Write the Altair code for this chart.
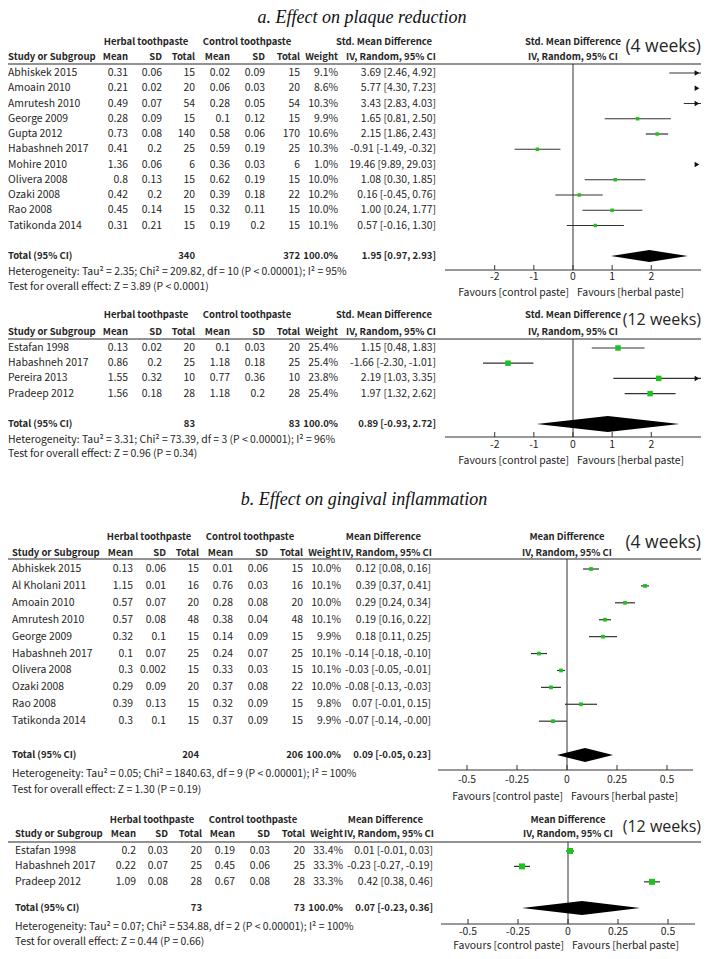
import altair as alt
import pandas as pd

# ---------------- a. Effect on plaque reduction : 4 weeks (Std. Mean Difference) ----------------
a4_study = ["Abhiskek 2015", "Amoain 2010", "Amrutesh 2010", "George 2009", "Gupta 2012",
            "Habashneh 2017", "Mohire 2010", "Olivera 2008", "Ozaki 2008", "Rao 2008", "Tatikonda 2014"]
a4_h_mean = [0.31, 0.21, 0.49, 0.28, 0.73, 0.41, 1.36, 0.8, 0.42, 0.45, 0.31]
a4_h_sd = [0.06, 0.02, 0.07, 0.09, 0.08, 0.2, 0.06, 0.13, 0.2, 0.14, 0.21]
a4_h_n = [15, 20, 54, 15, 140, 25, 6, 15, 20, 15, 15]
a4_c_mean = [0.02, 0.06, 0.28, 0.1, 0.58, 0.59, 0.36, 0.62, 0.39, 0.32, 0.19]
a4_c_sd = [0.09, 0.03, 0.05, 0.12, 0.06, 0.19, 0.03, 0.19, 0.18, 0.11, 0.2]
a4_c_n = [15, 20, 54, 15, 170, 25, 6, 15, 22, 15, 15]
a4_weight = [9.1, 8.6, 10.3, 9.9, 10.6, 10.3, 1.0, 10.0, 10.2, 10.0, 10.1]
a4_est = [3.69, 5.77, 3.43, 1.65, 2.15, -0.91, 19.46, 1.08, 0.16, 1.00, 0.57]
a4_lo = [2.46, 4.30, 2.83, 0.81, 1.86, -1.49, 9.89, 0.30, -0.45, 0.24, -0.16]
a4_hi = [4.92, 7.23, 4.03, 2.50, 2.43, -0.32, 29.03, 1.85, 0.76, 1.77, 1.30]
a4_total = [340, 372, 1.95, 0.97, 2.93]
a4_het = "Heterogeneity: Tau² = 2.35; Chi² = 209.82, df = 10 (P < 0.00001); I² = 95%"
a4_test = "Test for overall effect: Z = 3.89 (P < 0.0001)"

# ---------------- a. plaque : 12 weeks ----------------
a12_study = ["Estafan 1998", "Habashneh 2017", "Pereira 2013", "Pradeep 2012"]
a12_h_mean = [0.13, 0.86, 1.55, 1.56]
a12_h_sd = [0.02, 0.2, 0.32, 0.18]
a12_h_n = [20, 25, 10, 28]
a12_c_mean = [0.1, 1.18, 0.77, 1.18]
a12_c_sd = [0.03, 0.18, 0.36, 0.2]
a12_c_n = [20, 25, 10, 28]
a12_weight = [25.4, 25.4, 23.8, 25.4]
a12_est = [1.15, -1.66, 2.19, 1.97]
a12_lo = [0.48, -2.30, 1.03, 1.32]
a12_hi = [1.83, -1.01, 3.35, 2.62]
a12_total = [83, 83, 0.89, -0.93, 2.72]
a12_het = "Heterogeneity: Tau² = 3.31; Chi² = 73.39, df = 3 (P < 0.00001); I² = 96%"
a12_test = "Test for overall effect: Z = 0.96 (P = 0.34)"

# ---------------- b. Effect on gingival inflammation : 4 weeks (Mean Difference) ----------------
b4_study = ["Abhiskek 2015", "Al Kholani 2011", "Amoain 2010", "Amrutesh 2010", "George 2009",
            "Habashneh 2017", "Olivera 2008", "Ozaki 2008", "Rao 2008", "Tatikonda 2014"]
b4_h_mean = [0.13, 1.15, 0.57, 0.57, 0.32, 0.1, 0.3, 0.29, 0.39, 0.3]
b4_h_sd = [0.06, 0.01, 0.07, 0.08, 0.1, 0.07, 0.002, 0.09, 0.13, 0.1]
b4_h_n = [15, 16, 20, 48, 15, 25, 15, 20, 15, 15]
b4_c_mean = [0.01, 0.76, 0.28, 0.38, 0.14, 0.24, 0.33, 0.37, 0.32, 0.37]
b4_c_sd = [0.06, 0.03, 0.08, 0.04, 0.09, 0.07, 0.03, 0.08, 0.09, 0.09]
b4_c_n = [15, 16, 20, 48, 15, 25, 15, 22, 15, 15]
b4_weight = [10.0, 10.1, 10.0, 10.1, 9.9, 10.1, 10.1, 10.0, 9.8, 9.9]
b4_est = [0.12, 0.39, 0.29, 0.19, 0.18, -0.14, -0.03, -0.08, 0.07, -0.07]
b4_lo = [0.08, 0.37, 0.24, 0.16, 0.11, -0.18, -0.05, -0.13, -0.01, -0.14]
b4_hi = [0.16, 0.41, 0.34, 0.22, 0.25, -0.10, -0.01, -0.03, 0.15, -0.0]
b4_total = [204, 206, 0.09, -0.05, 0.23]
b4_het = "Heterogeneity: Tau² = 0.05; Chi² = 1840.63, df = 9 (P < 0.00001); I² = 100%"
b4_test = "Test for overall effect: Z = 1.30 (P = 0.19)"

# ---------------- b. gingival : 12 weeks ----------------
b12_study = ["Estafan 1998", "Habashneh 2017", "Pradeep 2012"]
b12_h_mean = [0.2, 0.22, 1.09]
b12_h_sd = [0.03, 0.07, 0.08]
b12_h_n = [20, 25, 28]
b12_c_mean = [0.19, 0.45, 0.67]
b12_c_sd = [0.03, 0.06, 0.08]
b12_c_n = [20, 25, 28]
b12_weight = [33.4, 33.3, 33.3]
b12_est = [0.01, -0.23, 0.42]
b12_lo = [-0.01, -0.27, 0.38]
b12_hi = [0.03, -0.19, 0.46]
b12_total = [73, 73, 0.07, -0.23, 0.36]
b12_het = "Heterogeneity: Tau² = 0.07; Chi² = 534.88, df = 2 (P < 0.00001); I² = 100%"
b12_test = "Test for overall effect: Z = 0.44 (P = 0.66)"

smd_ticks = [-2, -1, 0, 1, 2]
md_ticks = [-0.5, -0.25, 0, 0.25, 0.5]
titles = ["a. Effect on plaque reduction", "b. Effect on gingival inflammation"]

PANELS = [
    dict(study=a4_study, hm=a4_h_mean, hs=a4_h_sd, hn=a4_h_n, cm=a4_c_mean, cs=a4_c_sd, cn=a4_c_n,
         w=a4_weight, est=a4_est, lo=a4_lo, hi=a4_hi, tot=a4_total, het=a4_het, test=a4_test,
         effect="Std. Mean Difference", weeks="(4 weeks)", ticks=smd_ticks),
    dict(study=a12_study, hm=a12_h_mean, hs=a12_h_sd, hn=a12_h_n, cm=a12_c_mean, cs=a12_c_sd, cn=a12_c_n,
         w=a12_weight, est=a12_est, lo=a12_lo, hi=a12_hi, tot=a12_total, het=a12_het, test=a12_test,
         effect="Std. Mean Difference", weeks="(12 weeks)", ticks=smd_ticks),
    dict(study=b4_study, hm=b4_h_mean, hs=b4_h_sd, hn=b4_h_n, cm=b4_c_mean, cs=b4_c_sd, cn=b4_c_n,
         w=b4_weight, est=b4_est, lo=b4_lo, hi=b4_hi, tot=b4_total, het=b4_het, test=b4_test,
         effect="Mean Difference", weeks="(4 weeks)", ticks=md_ticks),
    dict(study=b12_study, hm=b12_h_mean, hs=b12_h_sd, hn=b12_h_n, cm=b12_c_mean, cs=b12_c_sd, cn=b12_c_n,
         w=b12_weight, est=b12_est, lo=b12_lo, hi=b12_hi, tot=b12_total, het=b12_het, test=b12_test,
         effect="Mean Difference", weeks="(12 weeks)", ticks=md_ticks),
]

# ---------------- layout (pixel positions, styles) ----------------
W, H = 693, 943
LAYOUT = [
    dict(cols=[0, 120, 154, 187, 222, 257, 292, 330, 428], grp=[138, 239], eff1=424, eff2=428,
         h1=34, h2=49, sep=56, row0=65, rowt=248, gap=2, het=264, test=279,
         axis=262, tlab=269, fav=285, xdom=[-3.27, 3.27], xrng=[437, 693],
         wy=39, wfs=17.5, sq=12, dh=6),
    dict(cols=[0, 120, 154, 187, 222, 257, 292, 330, 428], grp=[138, 239], eff1=424, eff2=428,
         h1=307, h2=324, sep=331, row0=340, rowt=416, gap=2, het=432, test=446,
         axis=429, tlab=437, fav=453, xdom=[-3.27, 3.27], xrng=[437, 693],
         wy=312, wfs=16, sq=30, dh=8),
    dict(cols=[4, 125, 158, 191, 225, 260, 295, 333, 423], grp=[141, 242], eff1=413, eff2=424,
         h1=529, h2=545, sep=551, row0=561, rowt=747, gap=2, het=766, test=782,
         axis=762, tlab=772, fav=789, xdom=[-0.645, 0.63], xrng=[430, 685],
         wy=535, wfs=17.5, sq=14, dh=7),
    dict(cols=[7, 128, 160, 194, 227, 262, 297, 335, 425], grp=[144, 245], eff1=415, eff2=426,
         h1=812, h2=826, sep=834, row0=843, rowt=900, gap=1.7, het=919, test=934,
         axis=916, tlab=924, fav=938, xdom=[-0.635, 0.635], xrng=[433, 687],
         wy=819, wfs=16, sq=36, dh=7),
]
TITLE_POS = [(354, 15), (356, 497)]
WEEKS_RIGHT = 693

FONT = "Noto Sans CJK SC, Liberation Sans, sans-serif"
FS = 10.4
FSB = 9.5
INK = "#262626"
LINE = "#333333"
GREEN = "#1cc31c"


def num(v):
    return str(v)


def ci(e, l, h):
    return f"{e:.2f} [{l:.2f}, {h:.2f}]"


def panel_layers(d, L):
    n = len(d["study"])
    tpos = n - 1 + L["gap"]
    ysc = alt.Scale(domain=[0, tpos], range=[L["row0"], L["rowt"]], nice=False, zero=False)
    xsc = alt.Scale(domain=L["xdom"], range=L["xrng"], nice=False, zero=False)
    dmin, dmax = L["xdom"]
    cols = L["cols"]
    one = pd.DataFrame({"k": [0]})
    out = []

    def Yrow(f):
        return alt.Y(f, type="quantitative", scale=ysc, axis=None)

    def Xf(f):
        return alt.X(f, type="quantitative", scale=xsc, axis=None)

    def Xd(v):
        return alt.XDatum(v, type="quantitative", scale=xsc, axis=None)

    XP = alt.X("px:Q", scale=None, axis=None)
    YP = alt.Y("py:Q", scale=None, axis=None)

    def tmark(align, bold, **kw):
        return dict(align=align, baseline="middle", font=FONT, fontSize=FSB if bold else FS,
                    fontWeight="bold" if bold else "normal", color=INK, **kw)

    def fixed(rows, align, bold):
        df = pd.DataFrame(rows, columns=["label", "px", "py"])
        return alt.Chart(df).mark_text(**tmark(align, bold)).encode(x=XP, y=YP, text="label:N")

    # ---- headers & footers of the table ----
    out.append(fixed([("Herbal toothpaste", L["grp"][0], L["h1"]),
                      ("Control toothpaste", L["grp"][1], L["h1"])], "center", True))
    out.append(fixed([(d["effect"], L["eff1"], L["h1"]),
                      ("Mean", cols[1], L["h2"]), ("SD", cols[2], L["h2"]), ("Total", cols[3], L["h2"]),
                      ("Mean", cols[4], L["h2"]), ("SD", cols[5], L["h2"]), ("Total", cols[6], L["h2"]),
                      ("Weight", cols[7], L["h2"]), ("IV, Random, 95% CI", L["eff2"], L["h2"])], "right", True))
    out.append(fixed([("Study or Subgroup", cols[0], L["h2"])], "left", True))
    out.append(fixed([(d["het"], cols[0], L["het"]), (d["test"], cols[0], L["test"])], "left", False))
    out.append(alt.Chart(one).mark_rule(color="#6e6e6e", strokeWidth=1.5).encode(
        x=alt.value(0), x2=alt.value(W), y=alt.value(L["sep"])))

    # ---- study rows ----
    names = pd.DataFrame({"pos": list(range(n)), "label": d["study"]})
    out.append(alt.Chart(names).mark_text(**tmark("left", False)).encode(
        x=alt.value(cols[0]), y=Yrow("pos"), text="label:N"))
    cells = []
    for i in range(n):
        vals = [num(d["hm"][i]), num(d["hs"][i]), num(d["hn"][i]), num(d["cm"][i]), num(d["cs"][i]),
                num(d["cn"][i]), f"{d['w'][i]:.1f}%", ci(d["est"][i], d["lo"][i], d["hi"][i])]
        for j, v in enumerate(vals):
            cells.append((i, cols[j + 1], v))
    cdf = pd.DataFrame(cells, columns=["pos", "px", "label"])
    out.append(alt.Chart(cdf).mark_text(**tmark("right", False)).encode(x=XP, y=Yrow("pos"), text="label:N"))

    # ---- total row ----
    th, tc, te, tl, thi = d["tot"]
    tot_l = pd.DataFrame({"pos": [tpos], "label": ["Total (95% CI)"]})
    out.append(alt.Chart(tot_l).mark_text(**tmark("left", True)).encode(
        x=alt.value(cols[0]), y=Yrow("pos"), text="label:N"))
    tot_r = pd.DataFrame({"pos": [tpos] * 4, "px": [cols[3], cols[6], cols[7], cols[8]],
                          "label": [str(th), str(tc), "100.0%", ci(te, tl, thi)]})
    out.append(alt.Chart(tot_r).mark_text(**tmark("right", True)).encode(x=XP, y=Yrow("pos"), text="label:N"))

    # ---- forest plot ----
    out.append(alt.Chart(one).mark_rule(color=LINE, strokeWidth=1).encode(
        x=Xd(0), y=alt.value(L["sep"]), y2=alt.value(L["axis"])))
    fdf = pd.DataFrame({"pos": list(range(n)), "est": d["est"], "lo": d["lo"], "hi": d["hi"]})
    out.append(alt.Chart(fdf).mark_rule(clip=True, color=LINE, strokeWidth=1.2).encode(
        x=Xf("lo"), x2=alt.X2("hi"), y=Yrow("pos")))
    out.append(alt.Chart(fdf).mark_square(clip=True, size=L["sq"], color=GREEN, opacity=1).encode(
        x=Xf("est"), y=Yrow("pos")))
    out.append(alt.Chart(fdf).transform_filter(alt.datum.hi > dmax).mark_point(
        shape="triangle-right", filled=True, size=30, color="#111111", opacity=1, xOffset=-4).encode(
        x=Xd(dmax), y=Yrow("pos")))
    step = (L["rowt"] - L["row0"]) / tpos
    hh = L["dh"] / step
    dia = pd.DataFrame({"x": [tl, te, thi], "y1": [tpos, tpos - hh, tpos], "y2": [tpos, tpos + hh, tpos]})
    out.append(alt.Chart(dia).mark_area(color="black", opacity=1, clip=True).encode(
        x=Xf("x"), y=Yrow("y1"), y2=alt.Y2("y2")))
    # axis
    out.append(alt.Chart(one).mark_rule(color=LINE, strokeWidth=1).encode(
        x=Xd(dmin), x2=alt.X2Datum(dmax), y=alt.value(L["axis"])))
    tk = pd.DataFrame({"t": d["ticks"], "label": [f"{t:g}" for t in d["ticks"]]})
    out.append(alt.Chart(tk).mark_rule(color=LINE, strokeWidth=1).encode(
        x=Xf("t"), y=alt.value(L["axis"] - 5), y2=alt.value(L["axis"])))
    out.append(alt.Chart(tk).mark_text(**tmark("center", False)).encode(
        x=Xf("t"), y=alt.value(L["tlab"]), text="label:N"))
    fl = pd.DataFrame({"label": ["Favours [control paste]"]})
    fr = pd.DataFrame({"label": ["Favours [herbal paste]"]})
    out.append(alt.Chart(fl).mark_text(**tmark("right", False, dx=-4)).encode(
        x=Xd(0), y=alt.value(L["fav"]), text="label:N"))
    out.append(alt.Chart(fr).mark_text(**tmark("left", False, dx=4)).encode(
        x=Xd(0), y=alt.value(L["fav"]), text="label:N"))
    h1 = pd.DataFrame({"label": [d["effect"]]})
    h2 = pd.DataFrame({"label": ["IV, Random, 95% CI"]})
    out.append(alt.Chart(h1).mark_text(**tmark("center", True)).encode(
        x=Xd(0), y=alt.value(L["h1"]), text="label:N"))
    out.append(alt.Chart(h2).mark_text(**tmark("center", True)).encode(
        x=Xd(0), y=alt.value(L["h2"]), text="label:N"))
    wk = pd.DataFrame({"label": [d["weeks"]]})
    out.append(alt.Chart(wk).mark_text(align="right", baseline="middle", font="Open Sans",
                                       fontSize=L["wfs"], color=INK).encode(
        x=alt.value(WEEKS_RIGHT), y=alt.value(L["wy"]), text="label:N"))
    return out


layers = []
for (tx, ty), t in zip(TITLE_POS, titles):
    layers.append(alt.Chart(pd.DataFrame({"label": [t]})).mark_text(
        align="center", baseline="alphabetic", font="Liberation Serif", fontStyle="italic",
        fontSize=18, color="#111111").encode(x=alt.value(tx), y=alt.value(ty), text="label:N"))
for d, L in zip(PANELS, LAYOUT):
    layers += panel_layers(d, L)

chart = alt.layer(*layers).resolve_scale(x="independent", y="independent").properties(
    width=W, height=H, padding=0, autosize=alt.AutoSizeParams(type="none")
).configure_view(stroke=None)

chart.save("out.html", embed_options={"renderer": "svg", "actions": False})
